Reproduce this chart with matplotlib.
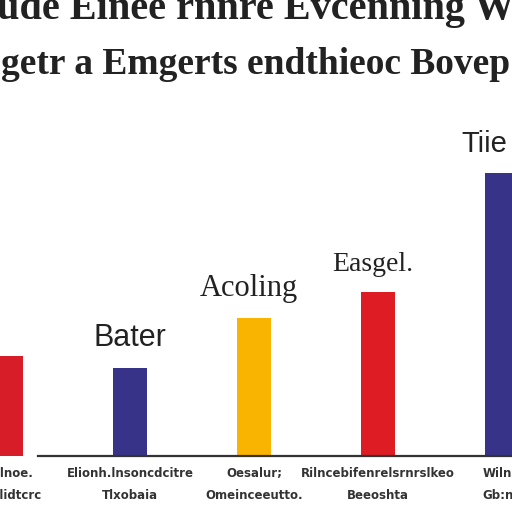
import matplotlib.pyplot as plt

# values (bar heights, relative)
categories = ["rcelnoe.\nUelklidtcrc", "Elionh.lnsoncdcitre\nTlxobaia", "Oesalur;\nOmeinceeutto.",
              "Rilncebifenrelsrnrslkeo\nBeeoshta", "Wilnn\nGb:nn"]
values = [35.3, 31.1, 48.8, 57.9, 100.0]
bar_labels = ["", "Bater", "Acoling", "Easgel.", "Tiie"]
colors = ["#D71E28", "#363389", "#F8B400", "#DD1C24", "#363389"]
title_lines = ["ude Einee rnnre Evcenning W", "getr a Emgerts endthieoc Bovep"]

fig = plt.figure(figsize=(5.12, 5.12), dpi=100)
ax = fig.add_axes([0, 56 / 512, 1, 456 / 512])

x = list(range(len(values)))
ax.bar(x, values, width=0.28, color=colors, zorder=2)
ax.set_xlim(-6 / 124, 506 / 124)
ax.set_ylim(0, 161.1)

for s in ["top", "left", "right"]:
    ax.spines[s].set_visible(False)
ax.spines["bottom"].set_bounds(32 / 124, 506 / 124)
ax.spines["bottom"].set_color("#333333")
ax.spines["bottom"].set_linewidth(1.6)
ax.set_yticks([])
ax.set_xticks(x)
ax.set_xticklabels(categories, fontsize=8.5, fontweight="bold", color="#333333",
                   family="Liberation Sans Narrow", linespacing=1.9)
ax.tick_params(axis="x", length=0, pad=8)

# labels above the bars
offsets = [0, 0, -0.04, -0.04, -0.14]
fams = ["Liberation Sans", "Liberation Sans", "Liberation Serif", "Liberation Serif", "Liberation Sans"]
sizes = [22, 22, 22, 20, 21]
for i, (v, lab) in enumerate(zip(values, bar_labels)):
    if lab:
        ax.annotate(lab, (i + offsets[i], v), xytext=(0, 11), textcoords="offset points",
                    ha="center", va="bottom", fontsize=sizes[i], color="#222222", family=fams[i])

fig.text(0.5, 1 - 19 / 512, title_lines[0], ha="center", va="baseline",
         fontsize=29, family="Liberation Serif", fontweight="bold", color="#222222")
fig.text(0.5, 1 - 74 / 512, title_lines[1], ha="center", va="baseline",
         fontsize=27, family="Liberation Serif", fontweight="bold", color="#222222")

fig.savefig("out.png", dpi=100)
